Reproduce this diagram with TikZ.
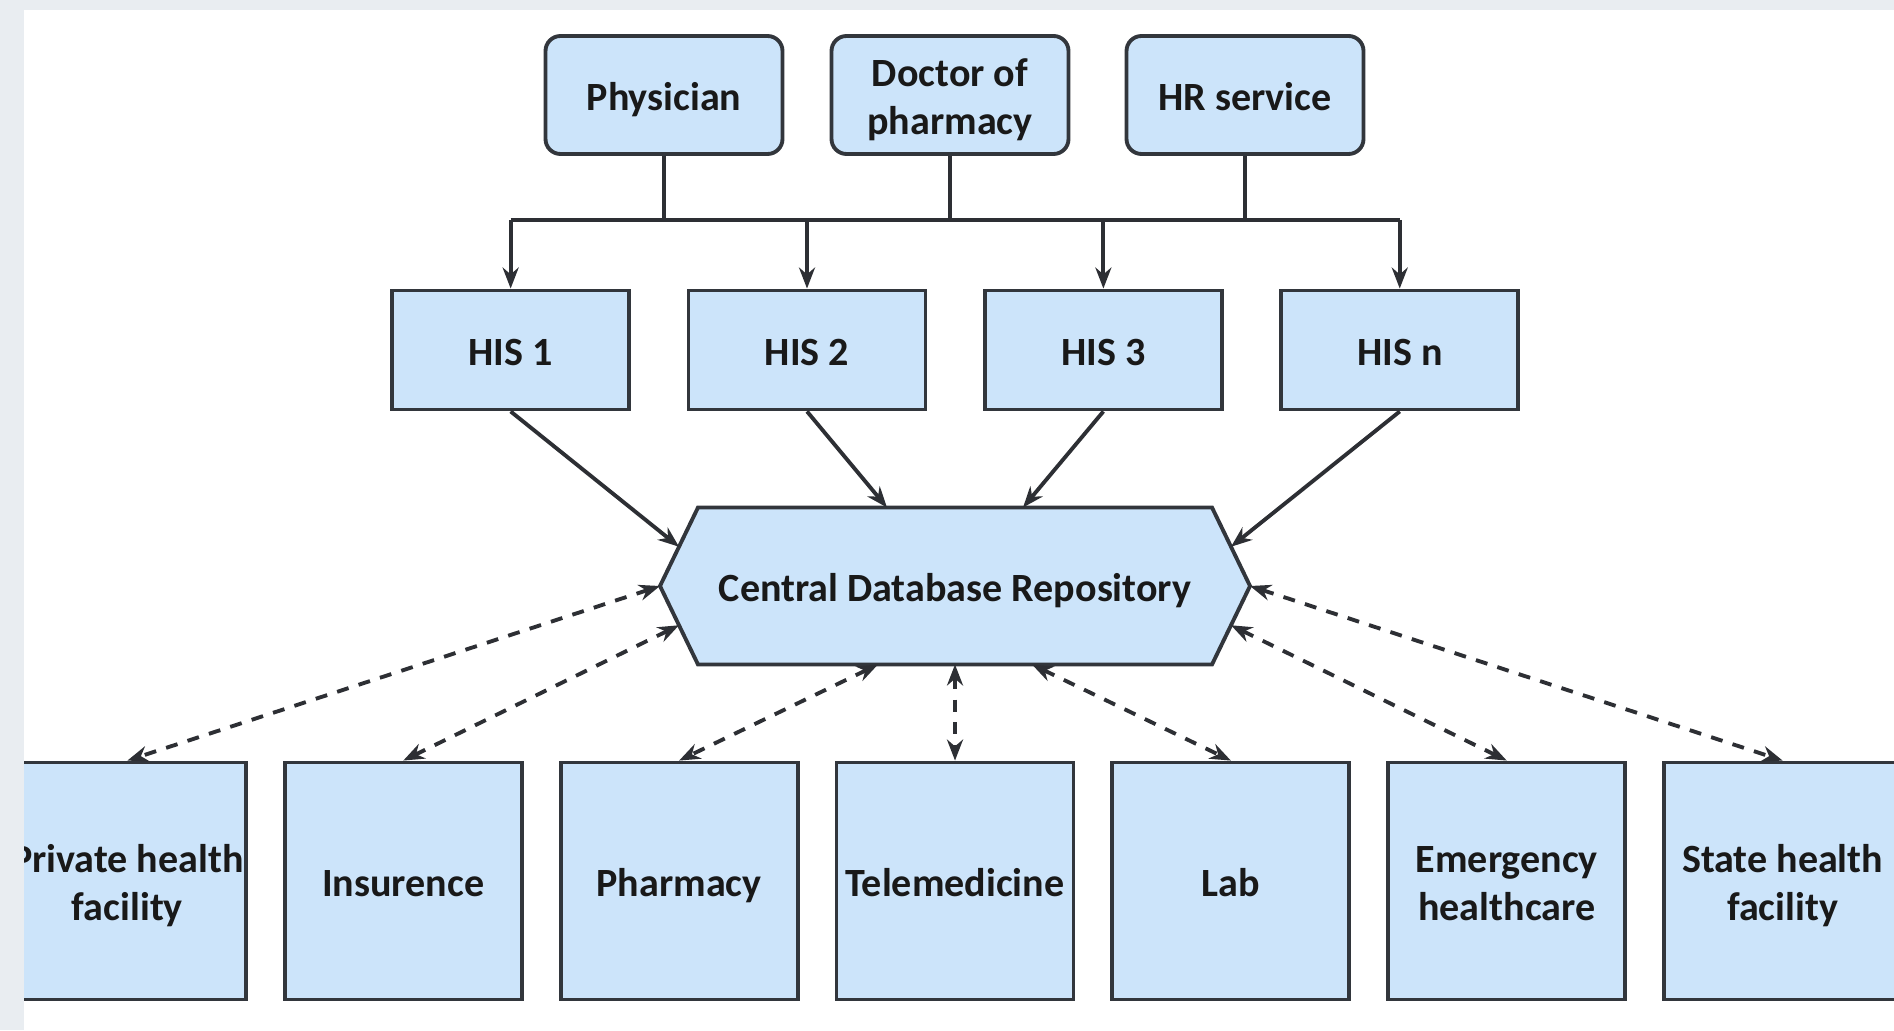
\documentclass[tikz,border=0pt]{standalone}
\usepackage{fontspec}
\setmainfont{Carlito}
\usetikzlibrary{arrows.meta, positioning, calc, backgrounds}
\definecolor{boxblue}{RGB}{204,228,250}
\definecolor{boxline}{RGB}{50,54,60}
\definecolor{linkgray}{RGB}{45,47,52}
\definecolor{pagegray}{RGB}{233,237,241}
\newcommand{\topstrut}{\rule{0pt}{12pt}}
\newcommand{\botstrut}{\rule[-3pt]{0pt}{3pt}}
\tikzset{
  blockbox/.style={draw=boxline, fill=boxblue, line width=1.1pt, minimum width=2.37cm,
    minimum height=#1, inner sep=0pt, align=center, text=black!90,
    font=\fontsize{11.4}{13.7}\selectfont\bfseries,
    execute at begin node=\topstrut, execute at end node=\botstrut},
  blockbox/.default=1.18cm,
  userbox/.style={blockbox, rounded corners=0.15cm},
  hisbox/.style={blockbox=1.19cm},
  servicebox/.style={blockbox=2.37cm},
  hexlabel/.style={minimum width=5.14cm, minimum height=1.57cm, inner sep=0pt, outer sep=0pt,
    text=black!90, font=\fontsize{11.4}{13.7}\selectfont\bfseries,
    execute at begin node=\topstrut, execute at end node=\botstrut},
  hexbox/.style={draw=boxline, fill=boxblue, line width=1.1pt, line join=miter},
  link/.style={draw=linkgray, line width=1.1pt},
  feed/.style={link, -{Stealth[length=2.1mm, width=1.6mm]}},
  share/.style={link, dash pattern=on 1.2mm off 1.05mm,
    {Stealth[length=2.1mm, width=1.6mm]}-{Stealth[length=2.1mm, width=1.6mm]}}
}

\begin{document}
\begin{tikzpicture}
  \useasboundingbox (0,0) rectangle (18.94,10.30);

  \node[userbox] (physician) at (6.64,9.35) {Physician};
  \node[userbox] (doctor) at (9.50,9.35) {\topstrut Doctor of\\pharmacy\botstrut};
  \node[userbox] (hr) at (12.45,9.35) {HR service};

  \node[hisbox] (his2) at (8.07,6.80) {HIS 2};
  \node[hisbox, left=0.555cm of his2] (his1) {HIS 1};
  \node[hisbox, right=0.555cm of his2] (his3) {HIS 3};
  \node[hisbox, right=0.555cm of his3] (hisn) {HIS n};

  \node[hexlabel] (cdr) at (9.55,4.44) {Central Database Repository};
  \coordinate (cdr-w) at ([xshift=-3.8mm]cdr.west);
  \coordinate (cdr-e) at ([xshift=3.8mm]cdr.east);
  \begin{scope}[on background layer]
    \draw[hexbox] (cdr.north west) -- (cdr.north east) -- (cdr-e) -- (cdr.south east)
      -- (cdr.south west) -- (cdr-w) -- cycle;
  \end{scope}

  \node[servicebox] (tele) at (9.55,1.49) {Telemedicine};
  \node[servicebox, left=0.35cm of tele] (pharmacy) {Pharmacy};
  \node[servicebox, left=0.35cm of pharmacy] (insurence) {Insurence};
  \node[servicebox, left=0.35cm of insurence] (private) {\topstrut Private health\\facility\botstrut};
  \node[servicebox, right=0.35cm of tele] (lab) {Lab};
  \node[servicebox, right=0.35cm of lab] (emergency) {\topstrut Emergency\\healthcare\botstrut};
  \node[servicebox, right=0.35cm of emergency] (state) {\topstrut State health\\facility\botstrut};

  \coordinate (bus) at (9.50,8.10);
  \draw[link] (physician.south) -- (physician.south |- bus);
  \draw[link] (doctor.south) -- (bus);
  \draw[link] (hr.south) -- (hr.south |- bus);
  \draw[link] (his1.north |- bus) -- (hisn.north |- bus);
  \draw[feed] (his1.north |- bus) -- (his1.north);
  \draw[feed] (his2.north |- bus) -- (his2.north);
  \draw[feed] (his3.north |- bus) -- (his3.north);
  \draw[feed] (hisn.north |- bus) -- (hisn.north);

  \draw[feed] (his1.south) -- ($(cdr.north west)!0.5!(cdr-w)$);
  \draw[feed] (his2.south) -- ([xshift=-6.8mm]cdr.north);
  \draw[feed] (his3.south) -- ([xshift=6.8mm]cdr.north);
  \draw[feed] (hisn.south) -- ($(cdr.north east)!0.5!(cdr-e)$);

  \draw[share] (cdr-w) -- (private.north);
  \draw[share] ($(cdr.south west)!0.5!(cdr-w)$) -- (insurence.north);
  \draw[share] ([xshift=-7.7mm]cdr.south) -- (pharmacy.north);
  \draw[share] (cdr.south) -- (tele.north);
  \draw[share] ([xshift=7.7mm]cdr.south) -- (lab.north);
  \draw[share] ($(cdr.south east)!0.5!(cdr-e)$) -- (emergency.north);
  \draw[share] (cdr-e) -- (state.north);

  \fill[pagegray] (0,0) rectangle (0.245,10.30);
  \fill[pagegray] (0,10.20) rectangle (18.94,10.30);
\end{tikzpicture}
\end{document}
